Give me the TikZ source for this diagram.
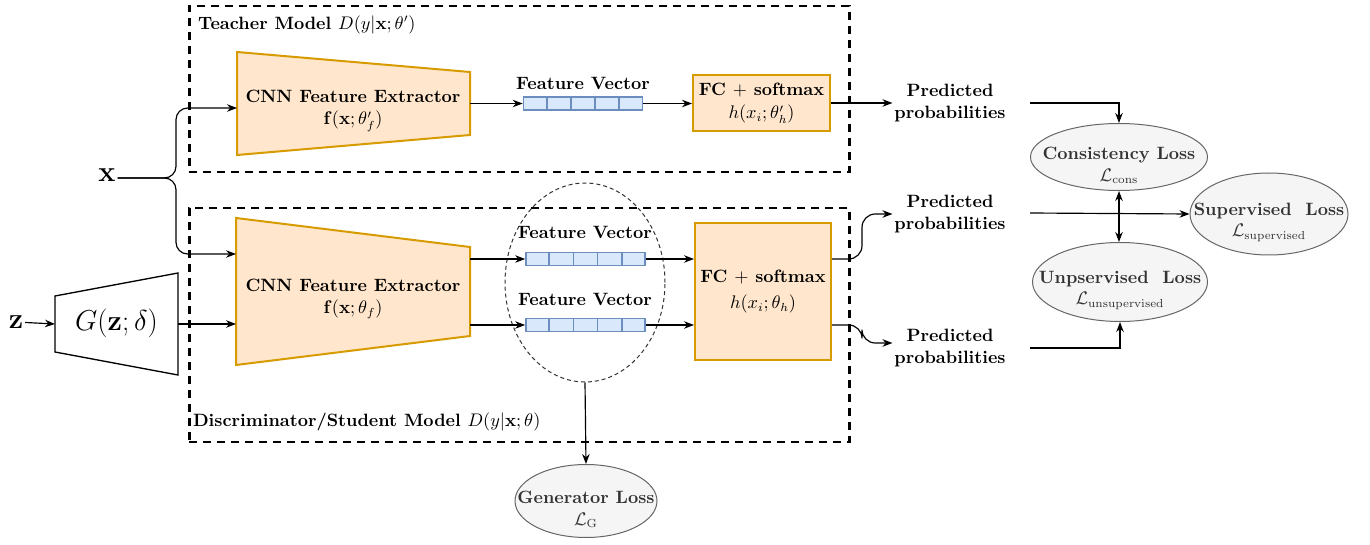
\documentclass[tikz,border=0pt]{standalone}
\usepackage{amsmath,amssymb}
\usetikzlibrary{arrows.meta,calc,shapes.geometric}
\definecolor{ofill}{HTML}{FFE6CC}
\definecolor{oline}{HTML}{D79B00}
\definecolor{bfill}{HTML}{DAE8FC}
\definecolor{bline}{HTML}{6C8EBF}
\definecolor{gfill}{HTML}{F5F5F5}
\definecolor{gline}{HTML}{666666}
\definecolor{gtext}{HTML}{333333}
\newcommand\bsz{\fontsize{10.7}{13}\selectfont}
\newcommand\fvec[3]{%
  \node[vecbox] (#1) at (#2,#3) {};
  \foreach \k in {1,...,4}
    \draw[bline, line width=1pt] ($(#1.north west)!\k/5!(#1.north east)$) -- ($(#1.south west)!\k/5!(#1.south east)$);
}
\begin{document}
\begin{tikzpicture}[x=0.6pt,y=-0.6pt,
  arr/.style={-{Stealth[length=6pt,width=4.5pt]}, line width=0.7pt},
  dbl/.style={{Stealth[length=6pt,width=4.5pt]}-{Stealth[length=6pt,width=4.5pt]}, line width=0.7pt},
  dbox/.style={draw, line width=1.5pt, dash pattern=on 4.8pt off 3.6pt, inner sep=0, anchor=north west},
  fcbox/.style={draw=oline, fill=ofill, line width=1.2pt, align=center, inner sep=0, font=\bsz\bfseries},
  trap/.style={draw=oline, fill=ofill, line width=1.2pt},
  ghost/.style={inner sep=0, outer sep=0},
  loss/.style={ellipse, draw=gline, fill=gfill, line width=0.6pt, inner sep=0},
  losstext/.style={text=gtext, font=\bsz\bfseries, align=center, inner sep=0, yshift=-5pt},
  lbl/.style={font=\bsz\bfseries, align=center, inner sep=1pt},
  vecbox/.style={draw=bline, fill=bfill, line width=1pt, minimum width=71.4pt, minimum height=7.8pt, inner sep=0}
]
\useasboundingbox (0,0) rectangle (1370,545);

% ---------- dashed model boxes ----------
\node[dbox, minimum width=396pt, minimum height=99.6pt] (tbox) at (188,5) {};
\node[lbl, anchor=west] (ttitle) at (196,25) {Teacher Model $D(y|\mathbf{x};\theta')$};
\node[dbox, minimum width=396pt, minimum height=140.4pt] (sbox) at (188,207) {};
\node[lbl, anchor=west] (stitle) at (191,422) {Discriminator/Student Model $D(y|\mathbf{x};\theta)$};

% ---------- inputs ----------
\node[font=\LARGE, inner sep=1pt] (x) at (107,175) {$\mathbf{x}$};
\node[font=\LARGE, inner sep=1pt] (z) at (16,322) {$\mathbf{z}$};

% generator trapezoid
\node[ghost, minimum width=73.8pt, minimum height=61.2pt] (g) at (116.5,324) {};
\draw[line width=0.8pt] (g.north east) -- (g.south east) -- ($(g.south west)+(0,-23)$) -- ($(g.north west)+(0,23)$) -- cycle;
\node[font=\LARGE] (gt) at (116.5,323) {$G(\mathbf{z};\delta)$};

% ---------- teacher ----------
\node[ghost, minimum width=139.8pt, minimum height=61.8pt] (tcnn) at (353.5,103.5) {};
\draw[trap] (tcnn.north west) -- ($(tcnn.north east)+(0,20)$) -- ($(tcnn.south east)+(0,-20)$) -- (tcnn.south west) -- cycle;
\node[lbl] (tcnnt) at (353,111) {CNN Feature Extractor\\$\mathbf{f}(\mathbf{x};\theta'_f)$};

\node[lbl] (tvl) at (583,83) {Feature Vector};
\fvec{tv}{583}{103.5}
\node[fcbox, minimum width=82.2pt, minimum height=33.6pt] (tfc) at (761.5,103) {FC $+$ softmax\\[1pt]$h(x_i;\theta'_h)$};
\node[lbl] (tpred) at (950,103) {Predicted\\probabilities};

% ---------- student ----------
\node[ghost, minimum width=140.4pt, minimum height=88.2pt] (scnn) at (353,291.5) {};
\draw[trap] (scnn.north west) -- ($(scnn.north east)+(0,29)$) -- ($(scnn.south east)+(0,-29)$) -- (scnn.south west) -- cycle;
\node[lbl] (scnnt) at (353,299) {CNN Feature Extractor\\$\mathbf{f}(\mathbf{x};\theta_f)$};

\node[ellipse, draw=gtext, dash pattern=on 2.4pt off 1.8pt, line width=0.6pt, minimum width=96pt, minimum height=119.4pt, inner sep=0] (fe) at (585,282.5) {};
\node[lbl] (sv1l) at (585,232) {Feature Vector};
\fvec{sv1}{585.5}{259}
\node[lbl] (sv2l) at (585,299) {Feature Vector};
\fvec{sv2}{585.5}{325}

\node[fcbox, minimum width=81.6pt, minimum height=82.2pt] (sfc) at (763,291.5) {FC $+$ softmax\\[3pt]$h(x_i;\theta_h)$};
\node[lbl] (spred1) at (950,214) {Predicted\\probabilities};
\node[lbl] (spred2) at (950,348) {Predicted\\probabilities};

% ---------- losses ----------
\node[loss, minimum width=106.2pt, minimum height=40.2pt] (cons) at (1119,157) {};
\node[losstext] at (cons) {Consistency Loss\\$\mathcal{L}_{\mathrm{cons}}$};
\node[loss, minimum width=94.8pt, minimum height=49.2pt] (sup) at (1269,214) {};
\node[losstext] at (sup) {Supervised\ \ Loss\\$\mathcal{L}_{\mathrm{supervised}}$};
\node[loss, minimum width=105pt, minimum height=47.4pt] (uns) at (1120,282) {};
\node[losstext] at (uns) {Unpservised\ \ Loss\\$\mathcal{L}_{\mathrm{unsupervised}}$};
\node[loss, minimum width=85.2pt, minimum height=43.8pt] (gen) at (586,501) {};
\node[losstext] at (gen) {Generator Loss\\$\mathcal{L}_{\mathrm{G}}$};

% ---------- connectors ----------
\coordinate (xj) at (176,178);
\coordinate (ty) at (0,108);
\coordinate (sy) at (0,254);
\draw[arr, rounded corners=7pt] (x.east |- xj) -- (xj) |- (tcnn.west |- ty);
\draw[arr, rounded corners=7pt] (x.east |- xj) -- (xj) |- (scnn.west |- sy);
\draw[arr] (z) -- (g.west);
\draw[arr] (g.east) -- (g.east -| scnn.west);

\draw[arr] (tcnn.east |- tv) -- (tv.west);
\draw[arr] (tv.east) -- (tfc.west |- tv);
\draw[arr] (tfc.east) -- (tpred.west);

\draw[arr] (scnn.east |- sv1) -- (sv1.west);
\draw[arr] (scnn.east |- sv2) -- (sv2.west);
\draw[arr] (sv1.east) -- (sfc.west |- sv1);
\draw[arr] (sv2.east) -- (sfc.west |- sv2);
\draw[arr, rounded corners=8pt] (sfc.east |- sv1) -- ++(30,0) |- (spred1.west);
\draw[arr, rounded corners=8pt] (sfc.east |- sv2) -- ++(30,0) |- ($(spred2.west)+(0,-5)$);

\draw[arr] (fe.south) -- (gen.north);

\coordinate (c1) at (1030,103);
\coordinate (c2) at (1030,213);
\coordinate (c3) at (1030,348);
\draw[arr] (c1) -| (cons.north);
\draw[arr] (c2) -- (sup.west);
\draw[arr] (c3) -| (uns.south);
\draw[dbl] (cons.south) -- (cons.south |- uns.north);
\end{tikzpicture}
\end{document}
